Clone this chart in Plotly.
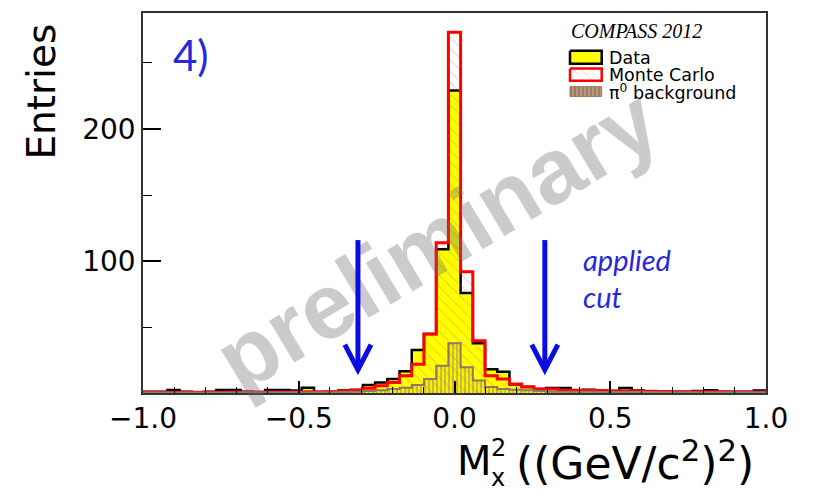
import numpy as np
import plotly.graph_objects as go

# ---------------- data ----------------
N_BINS = 51
X_MIN, X_MAX = -1.0, 1.0

data_counts = [1.5, 1.5, 2.8, 1.5, 0.8, 1.5, 2.8, 2.8, 1.5, 1.0,
               2.8, 2.8, 2.3, 4.5, 1.0, 1.5, 2.3, 2.8, 6.5, 8.5,
               11.0, 17.0, 33.0, 45.0, 109.0, 229.0, 76.0, 38.0, 18.5, 16.5,
               7.0, 5.0, 3.5, 4.3, 4.3, 2.0, 3.0, 1.5, 2.0, 4.3,
               2.3, 1.5, 1.5, 1.5, 1.5, 2.0, 2.5, 1.5, 1.5, 1.5,
               2.3]
mc_counts = [1.0, 1.0, 1.0, 1.0, 1.0, 1.0, 1.0, 1.2, 1.2, 1.2,
             1.2, 1.2, 1.3, 1.5, 1.5, 1.5, 2.0, 2.8, 4.0, 6.0,
             8.5, 13.5, 22.3, 45.0, 114.0, 273.0, 92.0, 40.0, 13.5, 11.0,
             7.3, 5.3, 3.5, 3.5, 2.8, 2.5, 2.3, 2.3, 2.0, 2.0,
             2.0, 1.8, 1.6, 1.5, 1.5, 1.5, 1.4, 1.4, 1.3, 1.3,
             1.2]
bg_counts = [0.8, 0.8, 0.8, 0.8, 0.9, 0.9, 0.9, 0.9, 1.0, 1.0,
             1.0, 1.0, 1.0, 1.0, 1.1, 1.1, 1.2, 1.5, 2.0, 2.5,
             3.5, 4.5, 6.5, 11.0, 21.0, 38.0, 20.0, 10.0, 5.0, 3.5,
             3.0, 2.5, 2.0, 1.5, 1.5, 1.4, 1.4, 1.3, 1.3, 1.2,
             1.2, 1.2, 1.1, 1.1, 1.1, 1.0, 1.0, 1.0, 1.0, 1.0,
             1.0]

x_tick_vals = [-1.0, -0.5, 0.0, 0.5, 1.0]
y_tick_vals = [100, 200]
y_minor_vals = [50, 150, 250]
cut_values = [-0.31, 0.29]
arrow_top, arrow_tip = 116, 18

legend_title = "COMPASS 2012"
legend_labels = ["Data", "Monte Carlo", "π<sup>0</sup> background"]

# ---------------- layout geometry (page pixels; page body has an 8px margin) ----------------
OFF = 8
W, H = 816 - OFF, 496 - OFF
PL, PR, PT, PB = 143, 766, 11, 393   # plot frame in page pixels


def fx(px):
    return (px - PL) / (PR - PL)


def fy(py):
    return (PB - py) / (PB - PT)


edges = np.linspace(X_MIN, X_MAX, N_BINS + 1)


def step_xy(counts):
    xs = [edges[0]] + list(edges) + [edges[-1]]
    ys = [0.0] + list(counts) + [counts[-1], 0.0]
    return xs, ys


YELLOW = "#ffff00"
RED = "#ff0000"
BROWN = "#9c7c62"
BROWN_LINE = "#8e7866"
BLUE_ARROW = "#0c0ce0"
BLUE_TEXT = "#2828d8"
MC_HATCH = "rgba(215,90,70,0.6)"

fig = go.Figure()

xd, yd = step_xy(data_counts)
fig.add_trace(go.Scatter(x=xd, y=yd, mode="lines", line=dict(shape="hv", color="black", width=2.5),
                         fill="tozeroy", fillcolor=YELLOW, hoverinfo="skip", showlegend=False))

xm, ym = step_xy(mc_counts)
fig.add_trace(go.Scatter(x=xm, y=ym, mode="lines", line=dict(shape="hv", color=RED, width=3),
                         fill="tozeroy", fillcolor="rgba(0,0,0,0)",
                         fillpattern=dict(shape="\\", fgcolor=MC_HATCH,
                                          bgcolor="rgba(0,0,0,0)", size=8, solidity=0.14),
                         hoverinfo="skip", showlegend=False))

xb, yb = step_xy(bg_counts)
fig.add_trace(go.Scatter(x=xb, y=yb, mode="lines", line=dict(shape="hv", color=BROWN_LINE, width=2),
                         fill="tozeroy", fillcolor="rgba(0,0,0,0)",
                         fillpattern=dict(shape="|", fgcolor=BROWN, bgcolor="rgba(0,0,0,0)",
                                          size=4, solidity=0.6),
                         hoverinfo="skip", showlegend=False))

# ---------------- legend swatches (overlay axes in paper-like units) ----------------
sw_x0, sw_x1 = fx(570), fx(601.7)
sw_rows = [(49, 62), (66.7, 79), (85, 95)]
sw_styles = [
    dict(fillcolor=YELLOW, line=dict(color="black", width=2.5)),
    dict(fillcolor="white", line=dict(color=RED, width=2.5),
         fillpattern=dict(shape="\\", fgcolor="rgba(225,90,90,0.55)", bgcolor="white", size=6, solidity=0.15)),
    dict(fillcolor=BROWN, line=dict(color=BROWN, width=1),
         fillpattern=dict(shape="|", fgcolor="#e8dccc", bgcolor=BROWN, size=4, solidity=0.3)),
]
for (r0, r1), st in zip(sw_rows, sw_styles):
    fig.add_trace(go.Scatter(x=[sw_x0, sw_x1, sw_x1, sw_x0, sw_x0],
                             y=[fy(r0), fy(r0), fy(r1), fy(r1), fy(r0)],
                             mode="lines", fill="toself", xaxis="x2", yaxis="y2",
                             hoverinfo="skip", showlegend=False, **st))

# ---------------- shapes: watermark (as shape label) then arrows ----------------
shapes = []
cx, cy, ang = 432, 231, 31.0
dxp, dyp = 200 * np.cos(np.radians(ang)), 200 * np.sin(np.radians(ang))
shapes.append(dict(type="line", xref="paper", yref="paper",
                   x0=fx(cx - dxp), y0=fy(cy + dyp), x1=fx(cx + dxp), y1=fy(cy - dyp),
                   line=dict(width=0, color="rgba(0,0,0,0)"), layer="above",
                   label=dict(text="preliminary", textangle=-ang, textposition="middle",
                              yanchor="middle",
                              font=dict(size=92, family="Liberation Sans", weight="bold",
                                        color="rgba(110,110,110,0.36)"))))
head_dx, head_dy = 0.042, 19
for c in cut_values:
    shapes.append(dict(type="line", xref="x", yref="y", x0=c, x1=c, y0=arrow_top, y1=arrow_tip + 2,
                       line=dict(color=BLUE_ARROW, width=5), layer="above"))
    shapes.append(dict(type="path", xref="x", yref="y",
                       path=f"M {c - head_dx},{arrow_tip + head_dy} L {c},{arrow_tip} L {c + head_dx},{arrow_tip + head_dy}",
                       line=dict(color=BLUE_ARROW, width=5), layer="above"))

# ---------------- annotations ----------------
ann = []


def txt(text, px, py, size, family="DejaVu Sans", color="black", xanchor="left", **kw):
    ann.append(dict(text=text, x=fx(px), y=fy(py), xref="paper", yref="paper", showarrow=False,
                    xanchor=xanchor, yanchor="middle",
                    font=dict(family=family, size=size, color=color), **kw))


txt("4)", 191, 53, 42, family="Lato", color=BLUE_TEXT, xanchor="center")
txt("<i>applied</i>", 581, 259, 29, family="Lato", color=BLUE_TEXT)
txt("<i>cut</i>", 581, 296, 29, family="Lato", color=BLUE_TEXT)
txt("<i>" + legend_title + "</i>", 569, 29, 20, family="Liberation Serif")
for (r0, r1), lab in zip(sw_rows, legend_labels):
    txt(lab, 607, (r0 + r1) / 2 + 0.5, 17.5)
# axis titles
txt("Entries", 42, 90, 39, xanchor="center", textangle=-90)
txt("M", 455, 461, 40)
txt("2", 498, 448, 24, xanchor="center")
txt("x", 498, 478, 24, xanchor="center")
txt("((GeV/c<sup>2</sup>)<sup>2</sup>)", 514, 461, 44)

fig.update_layout(
    width=W, height=H,
    margin=dict(l=PL - OFF, r=W - (PR - OFF), t=PT - OFF, b=H - (PB - OFF), pad=0),
    paper_bgcolor="white", plot_bgcolor="white",
    showlegend=False,
    shapes=shapes, annotations=ann,
    xaxis=dict(range=[X_MIN, X_MAX], tickvals=x_tick_vals, tickformat=".1f",
               ticks="inside", ticklen=12, tickwidth=1.5, tickcolor="black",
               minor=dict(dtick=0.1, tick0=0, ticks="inside", ticklen=6, tickwidth=1, tickcolor="black"),
               showline=True, mirror=True, linecolor="#333333", linewidth=1.5,
               showgrid=False, zeroline=False,
               tickfont=dict(family="DejaVu Sans", size=28, color="black")),
    yaxis=dict(range=[0.5, 287.5], tickvals=y_tick_vals,
               ticks="inside", ticklen=18, tickwidth=1.5, tickcolor="black",
               minor=dict(tickvals=y_minor_vals, ticks="inside", ticklen=9, tickwidth=1, tickcolor="black"),
               showline=True, mirror=True, linecolor="#333333", linewidth=1.5,
               showgrid=False, zeroline=False,
               tickfont=dict(family="DejaVu Sans", size=28, color="black")),
    xaxis2=dict(overlaying="x", range=[0, 1], visible=False, anchor="y2"),
    yaxis2=dict(overlaying="y", range=[0, 1], visible=False, anchor="x2"),
)

fig.write_html("out.html")
